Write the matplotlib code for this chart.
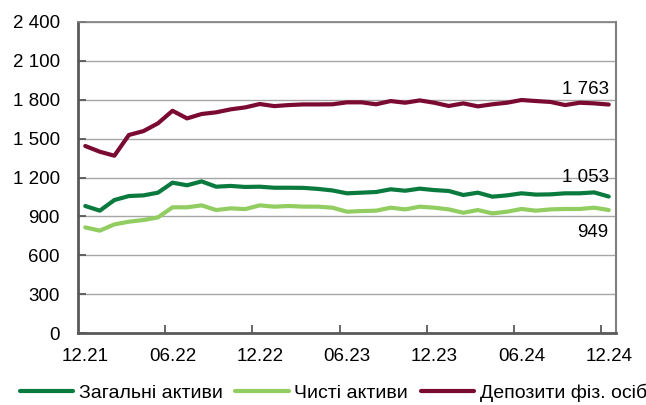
import matplotlib
matplotlib.use("Agg")
import matplotlib.pyplot as plt
from matplotlib.ticker import FuncFormatter, MultipleLocator, FixedLocator

plt.rcParams['font.family'] = ['Liberation Sans', 'DejaVu Sans']

# monthly values, 12.21 .. 12.24
tick_labels = ["12.21", "06.22", "12.22", "06.23", "12.23", "06.24", "12.24"]

total_assets = [980, 944, 1026, 1057, 1062, 1083, 1160, 1140, 1170, 1129,
                1135, 1127, 1129, 1121, 1121, 1120, 1112, 1100, 1078, 1083,
                1088, 1109, 1098, 1114, 1103, 1096, 1065, 1083, 1052, 1062,
                1078, 1068, 1070, 1078, 1078, 1085, 1053]

net_assets = [815, 790, 838, 859, 872, 892, 970, 970, 985, 949,
              962, 956, 985, 975, 980, 975, 975, 967, 936, 941,
              944, 967, 954, 975, 967, 954, 928, 949, 923, 936,
              957, 944, 954, 957, 957, 967, 949]

deposits = [1443, 1399, 1368, 1528, 1558, 1618, 1715, 1656, 1690, 1703,
            1726, 1741, 1767, 1751, 1759, 1764, 1764, 1765, 1780, 1780,
            1765, 1790, 1777, 1795, 1777, 1752, 1772, 1749, 1765, 1777,
            1798, 1790, 1783, 1759, 1777, 1772, 1763]

c_total = '#0A7A3E'
c_net = '#92CD61'
c_dep = '#7A0A32'
fs = 13.5

def fmt(v, pos=None):
    return f"{int(round(v)):,}".replace(',', ' ')

fig = plt.figure(figsize=(6.46, 4.05), dpi=100)
ax = fig.add_axes([78 / 646, 1 - 333 / 405, 538 / 646, 311 / 405])

x = list(range(len(deposits)))
ax.plot(x, total_assets, color=c_total, lw=3, label="Загальні активи", solid_capstyle='round')
ax.plot(x, net_assets, color=c_net, lw=3, label="Чисті активи", solid_capstyle='round')
ax.plot(x, deposits, color=c_dep, lw=3, label="Депозити фіз. осіб", solid_capstyle='round')

ax.set_ylim(0, 2400)
ax.set_xlim(-0.5, len(x) - 0.5)
ax.yaxis.set_major_locator(MultipleLocator(300))
ax.yaxis.set_major_formatter(FuncFormatter(fmt))
ax.grid(axis='y', color='#A6A6A6', lw=1)
ax.set_axisbelow(True)

ax.xaxis.set_major_locator(FixedLocator(list(range(0, len(x), 6))))
ax.set_xticklabels(tick_labels)
ax.xaxis.set_minor_locator(FixedLocator([k - 0.5 for k in range(6, len(x), 6)]))
ax.tick_params(axis='x', which='major', length=0, pad=11, labelsize=fs)
ax.tick_params(axis='x', which='minor', direction='in', length=6, width=1.3, color='#595959')
ax.tick_params(axis='y', direction='in', length=6, width=1.3, color='#595959', pad=13, labelsize=fs)

for side in ['left', 'bottom']:
    ax.spines[side].set_color('#595959')
    ax.spines[side].set_linewidth(2)
ax.spines['right'].set_color('#808080')
ax.spines['right'].set_linewidth(1.5)
ax.spines['top'].set_color('#808080')
ax.spines['top'].set_linewidth(1.2)

last = len(x) - 1
ax.annotate(fmt(deposits[-1]), (last, deposits[-1]), xytext=(0, 11), textcoords='offset points',
            ha='right', va='center', fontsize=fs)
ax.annotate(fmt(total_assets[-1]), (last, total_assets[-1]), xytext=(0, 14), textcoords='offset points',
            ha='right', va='center', fontsize=fs)
ax.annotate(fmt(net_assets[-1]), (last, net_assets[-1]), xytext=(0, -16), textcoords='offset points',
            ha='right', va='center', fontsize=fs)

fig.legend(loc='center left', bbox_to_anchor=(20 / 646, 1 - 393 / 405), ncol=3, frameon=False,
           fontsize=14, handlelength=2.75, handletextpad=0.28, columnspacing=0.65, borderpad=0,
           borderaxespad=0)

fig.savefig('out.png', dpi=100)
